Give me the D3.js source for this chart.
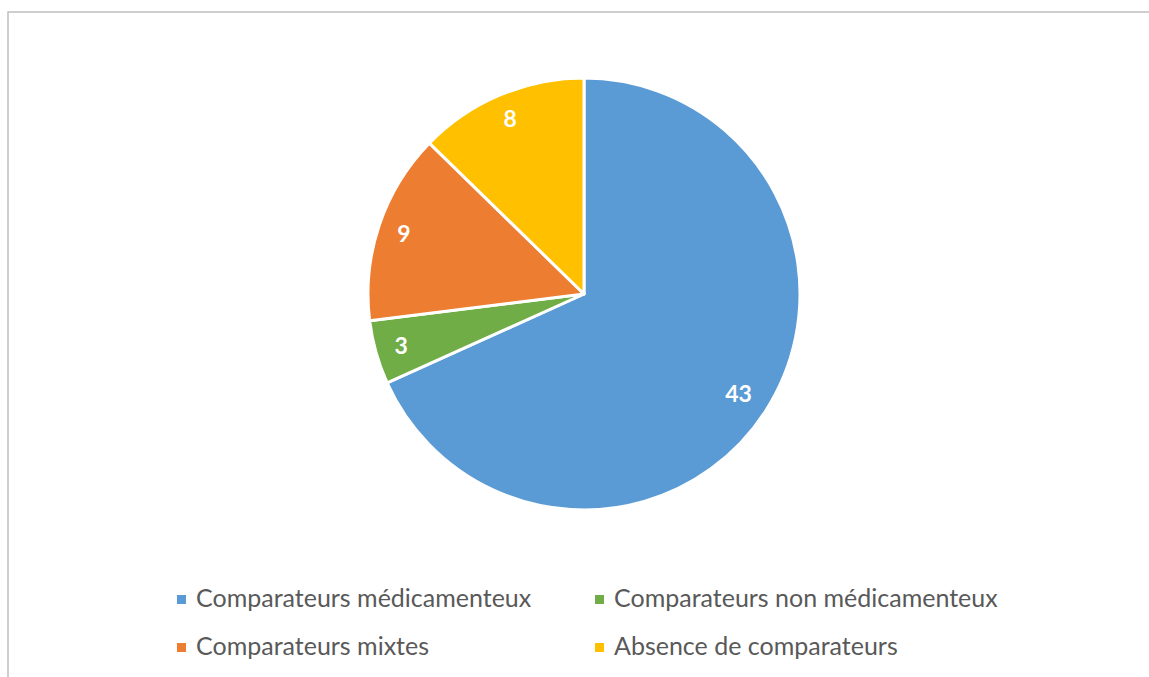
<!DOCTYPE html>
<html>
<head>
<meta charset="utf-8">
<script src="https://cdn.jsdelivr.net/npm/d3@7"></script>
<style>
  body { margin: 0; background: #fff; }
  #chart { width: 1149px; height: 677px; }
</style>
</head>
<body>
<div id="chart"></div>
<script>
// data
var categories = ["Comparateurs médicamenteux", "Comparateurs non médicamenteux", "Comparateurs mixtes", "Absence de comparateurs"];
var values = [43, 3, 9, 8];
var colors = ["#5B9BD5", "#70AD47", "#ED7D31", "#FFC000"];

var width = 1149, height = 677;
var cx = 584, cy = 294, radius = 216;

var svg = d3.select("#chart").append("svg")
  .attr("width", width)
  .attr("height", height);

// chart border (only top/left visible in the frame)
svg.append("rect")
  .attr("x", 8).attr("y", 12)
  .attr("width", 1160).attr("height", 700)
  .attr("fill", "none")
  .attr("stroke", "#bfbfbf")
  .attr("stroke-width", 1.5);

var pie = d3.pie().sort(null).value(function(d){ return d; });
var arcs = pie(values);

var arc = d3.arc().innerRadius(0).outerRadius(radius);

var g = svg.append("g").attr("transform", "translate(" + cx + "," + cy + ")");

g.selectAll("path.slice")
  .data(arcs)
  .enter().append("path")
  .attr("class", "slice")
  .attr("d", arc)
  .attr("fill", function(d, i){ return colors[i]; })
  .attr("stroke", "#fff")
  .attr("stroke-width", 3)
  .attr("stroke-linejoin", "round");

// labels near the outer edge, like Excel "inside end"
g.selectAll("text.lbl")
  .data(arcs)
  .enter().append("text")
  .attr("class", "lbl")
  .attr("transform", function(d){
    var a = (d.startAngle + d.endAngle) / 2;
    var r = d.data >= 10 ? radius - 32 : radius - 26;
    return "translate(" + (r * Math.sin(a)) + "," + (-r * Math.cos(a)) + ")";
  })
  .attr("text-anchor", "middle")
  .attr("dy", "0.36em")
  .attr("fill", "#fff")
  .style("font-family", "Lato, 'Open Sans', sans-serif")
  .style("font-weight", "bold")
  .style("font-size", "23px")
  .text(function(d){ return d.data; });

// legend, 2 columns x 2 rows
var legX = [177, 595], legY = [607, 655];
var leg = svg.selectAll("g.leg")
  .data(categories)
  .enter().append("g")
  .attr("class", "leg")
  .attr("transform", function(d, i){
    return "translate(" + legX[i % 2] + "," + legY[Math.floor(i / 2)] + ")";
  });

leg.append("rect")
  .attr("x", 0).attr("y", -12)
  .attr("width", 9).attr("height", 9)
  .attr("fill", function(d, i){ return colors[i]; });

leg.append("text")
  .attr("x", 19)
  .attr("y", 0)
  .attr("fill", "#595959")
  .style("font-family", "Lato, 'Open Sans', sans-serif")
  .style("font-size", "25px")
  .text(function(d){ return d; });
</script>
</body>
</html>
